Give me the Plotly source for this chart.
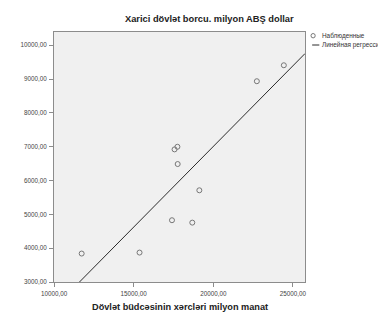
import numpy as np
import plotly.graph_objects as go

# Data
budget_spending = [11737, 15371, 17407, 18683, 19126, 17766, 17569, 17749, 22737, 24431]
external_debt = [3841, 3870, 4826, 4755, 5711, 6487, 6920, 6997, 8935, 9407]

x_ticks = [10000, 15000, 20000, 25000]
x_tick_labels = ["10000,00", "15000,00", "20000,00", "25000,00"]
y_ticks = [3000, 4000, 5000, 6000, 7000, 8000, 9000, 10000]
y_tick_labels = ["3000,00", "4000,00", "5000,00", "6000,00", "7000,00", "8000,00", "9000,00", "10000,00"]

title_text = "Xarici dövlət borcu. milyon ABŞ dollar"
x_title = "Dövlət büdcəsinin xərcləri milyon manat"
legend_obs = "Наблюденные"
legend_fit = "Линейная регрессия"

x_range = [10000, 25760]
y_range = [3000, 10390]

# linear regression fit
slope, intercept = np.polyfit(budget_spending, external_debt, 1)
fit_x = np.array(x_range, dtype=float)
fit_y = slope * fit_x + intercept

FONT = "Arial, Liberation Sans, sans-serif"
OFF = 8  # page body margin
W, H = 386 - OFF, 316 - OFF
# plot area in window pixels: left 42.3, right 305, top 32, bottom 282.2
L, R, T, B = 42 - OFF, 386 - 305, 32 - OFF, 316 - 282


def px_to_paper(px, py):
    pw = W - L - R
    ph = H - T - B
    return (px - OFF - L) / pw, 1 - (py - OFF - T) / ph


fig = go.Figure()
fig.add_trace(go.Scatter(
    x=fit_x, y=fit_y, mode="lines",
    line=dict(color="#2b2b2b", width=1),
    showlegend=False, hoverinfo="skip",
))
fig.add_trace(go.Scatter(
    x=budget_spending, y=external_debt, mode="markers",
    marker=dict(symbol="circle-open", size=5, color="#777777", line=dict(width=1, color="#777777")),
    showlegend=False,
))

axis_common = dict(
    showgrid=False, zeroline=False,
    showline=True, linecolor="#8c8c8c", linewidth=1, mirror=True,
    ticks="outside", ticklen=4, tickcolor="#8c8c8c", tickwidth=1,
    tickfont=dict(family=FONT, size=6.3, color="#444444"),
)

fig.update_layout(
    width=W, height=H,
    margin=dict(l=L, r=R, t=T, b=B),
    paper_bgcolor="white",
    plot_bgcolor="#f0f0f0",
    xaxis=dict(range=x_range, tickvals=x_ticks, ticktext=x_tick_labels, ticklabelstandoff=1, **axis_common),
    yaxis=dict(range=y_range, tickvals=y_ticks, ticktext=y_tick_labels, ticklabelstandoff=1, **axis_common),
    font=dict(family=FONT),
    showlegend=False,
)

# title
tx0, ty0 = px_to_paper(205, 19)
fig.add_annotation(
    text=f"<b>{title_text}</b>", xref="paper", yref="paper",
    x=tx0, y=ty0, xanchor="center", yanchor="middle", showarrow=False,
    font=dict(family=FONT, size=9.3, color="#222222"),
)
# x-axis title
ax, ay = px_to_paper(174, 306.5)
fig.add_annotation(
    text=f"<b>{x_title}</b>", xref="paper", yref="paper",
    x=ax, y=ay, xanchor="center", yanchor="middle", showarrow=False,
    font=dict(family=FONT, size=9.2, color="#222222"),
)

# manual legend
pw = W - L - R
ph = H - T - B
lx, ly = px_to_paper(313.5, 35.7)
fig.add_shape(type="circle", xref="paper", yref="paper",
              x0=lx - 2.2 / pw, x1=lx + 2.2 / pw, y0=ly - 2.2 / ph, y1=ly + 2.2 / ph,
              line=dict(color="#777777", width=1))
tx, ty = px_to_paper(320.5, 35.7)
fig.add_annotation(text=legend_obs, xref="paper", yref="paper", x=tx, y=ty,
                   xanchor="left", yanchor="middle", showarrow=False,
                   font=dict(family=FONT, size=6.4, color="#333333"))
l0x, l0y = px_to_paper(312.5, 45)
l1x, _ = px_to_paper(320, 45)
fig.add_shape(type="line", xref="paper", yref="paper", x0=l0x, x1=l1x, y0=l0y, y1=l0y,
              line=dict(color="#2b2b2b", width=1))
tx2, ty2 = px_to_paper(320.5, 45)
fig.add_annotation(text=legend_fit, xref="paper", yref="paper", x=tx2, y=ty2,
                   xanchor="left", yanchor="middle", showarrow=False,
                   font=dict(family=FONT, size=6.4, color="#333333"))

fig.write_html("out.html")
